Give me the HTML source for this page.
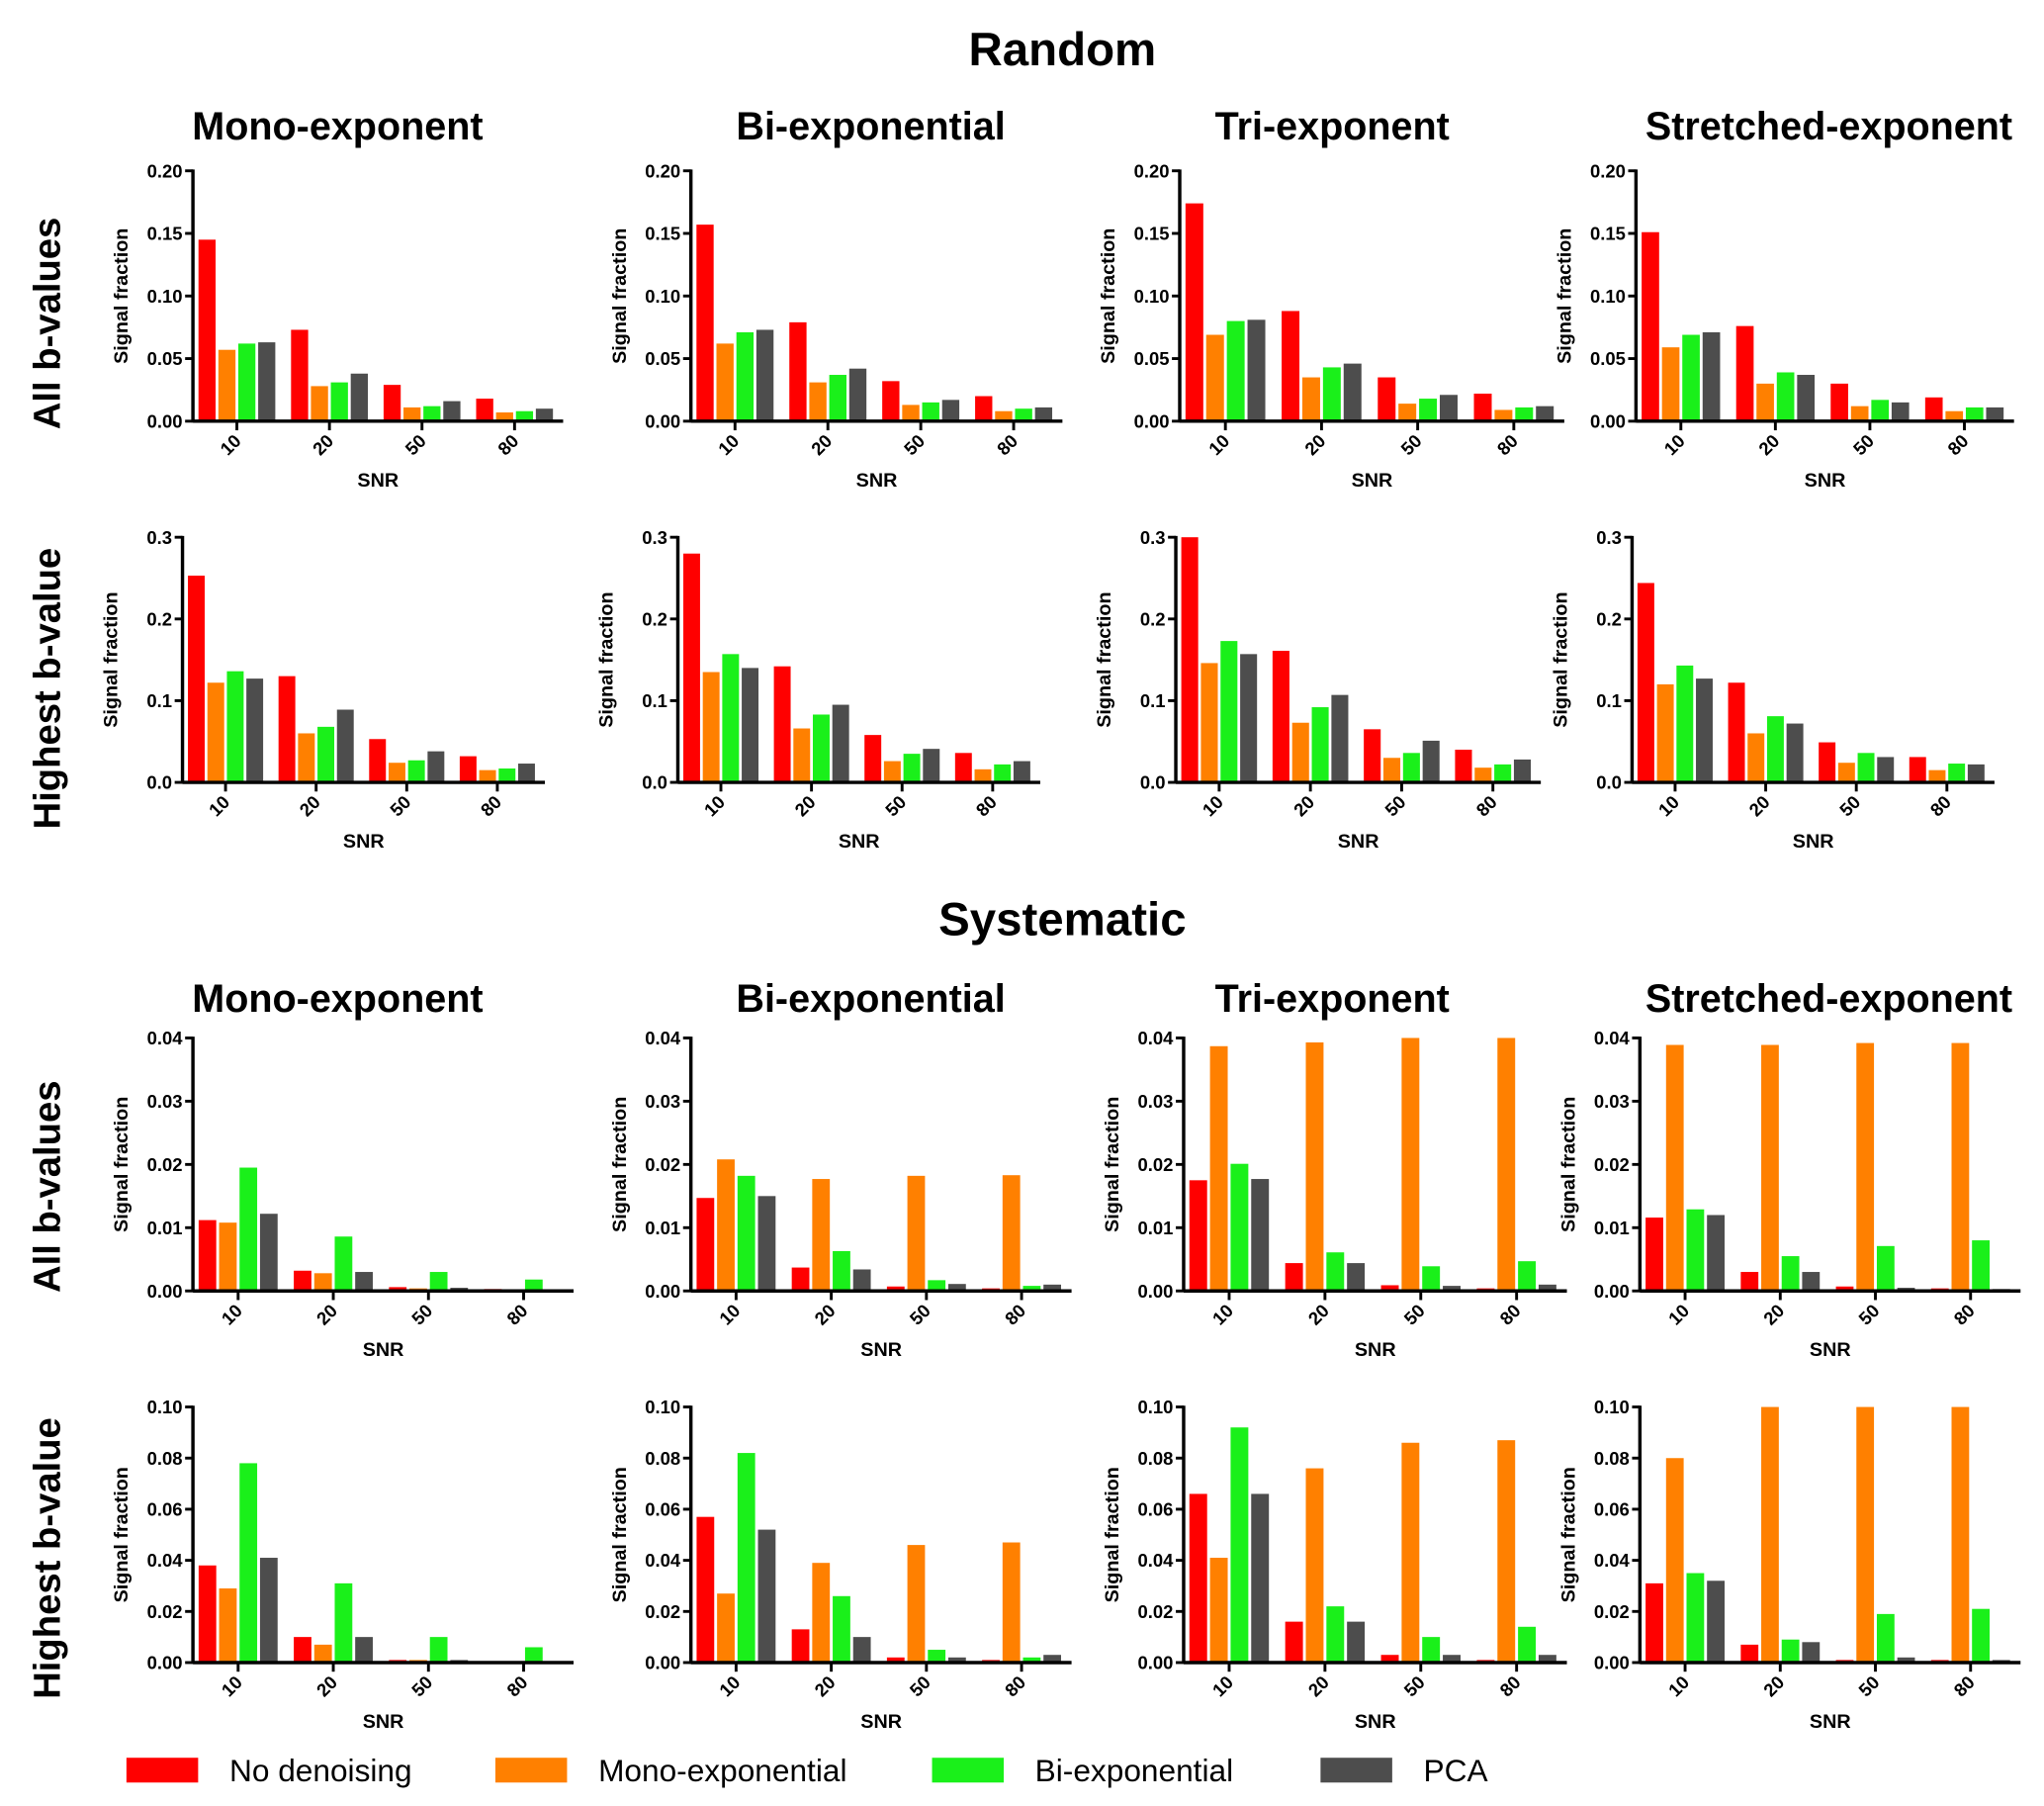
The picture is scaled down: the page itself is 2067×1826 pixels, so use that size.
<!DOCTYPE html>
<html><head><meta charset="utf-8"><style>
html,body{margin:0;padding:0;background:#fff;}
svg{display:block;font-family:"Liberation Sans",Arial,sans-serif;}
</style></head><body>
<svg id="fig" width="2067" height="1826" viewBox="0 0 1568 1385" preserveAspectRatio="none" xmlns="http://www.w3.org/2000/svg">
<text x="815" y="50" text-anchor="middle" font-size="36" font-weight="bold">Random</text>
<text x="815" y="717" text-anchor="middle" font-size="36" font-weight="bold">Systematic</text>
</svg>
<script>
const categories = ["10","20","50","80"];
const seriesNames = ["No denoising","Mono-exponential","Bi-exponential","PCA"];
const colTitles = ["Mono-exponent","Bi-exponential","Tri-exponent","Stretched-exponent"];
const rowLabels = ["All b-values","Highest b-value","All b-values","Highest b-value"];
const yMaxes = [0.20, 0.3, 0.04, 0.10];
const yTicksRow1 = [0,0.05,0.10,0.15,0.20];
const yTicksRow2 = [0,0.1,0.2,0.3];
const yTicksRow3 = [0,0.01,0.02,0.03,0.04];
const yTicksRow4 = [0,0.02,0.04,0.06,0.08,0.10];
const tickDecimals = [2,1,2,2];
// values[panel][category][series]
const row1Values = [
 [[.145,.057,.062,.063],[.073,.028,.031,.038],[.029,.011,.012,.016],[.018,.007,.008,.010]],
 [[.157,.062,.071,.073],[.079,.031,.037,.042],[.032,.013,.015,.017],[.020,.008,.010,.011]],
 [[.174,.069,.080,.081],[.088,.035,.043,.046],[.035,.014,.018,.021],[.022,.009,.011,.012]],
 [[.151,.059,.069,.071],[.076,.030,.039,.037],[.030,.012,.017,.015],[.019,.008,.011,.011]]];
const row2Values = [
 [[.253,.122,.136,.127],[.130,.060,.068,.089],[.053,.024,.027,.038],[.032,.015,.017,.023]],
 [[.280,.135,.157,.140],[.142,.066,.083,.095],[.058,.026,.035,.041],[.036,.016,.022,.026]],
 [[.300,.146,.173,.157],[.161,.073,.092,.107],[.065,.030,.036,.051],[.040,.018,.022,.028]],
 [[.244,.120,.143,.127],[.122,.060,.081,.072],[.049,.024,.036,.031],[.031,.015,.023,.022]]];
const row3Values = [
 [[.0112,.0108,.0195,.0122],[.0032,.0028,.0086,.0030],[.0006,.0004,.0030,.0005],[.0003,.0002,.0018,.0002]],
 [[.0147,.0208,.0182,.0150],[.0037,.0177,.0063,.0034],[.0007,.0182,.0017,.0011],[.0004,.0183,.0008,.0010]],
 [[.0175,.0387,.0201,.0177],[.0044,.0393,.0061,.0044],[.0009,.0400,.0039,.0008],[.0004,.0400,.0047,.0010]],
 [[.0116,.0389,.0129,.0120],[.0030,.0389,.0055,.0030],[.0007,.0392,.0071,.0005],[.0004,.0392,.0080,.0003]]];
const row4Values = [
 [[.038,.029,.078,.041],[.010,.007,.031,.010],[.001,.001,.010,.001],[.0005,.0003,.006,.0005]],
 [[.057,.027,.082,.052],[.013,.039,.026,.010],[.002,.046,.005,.002],[.001,.047,.002,.003]],
 [[.066,.041,.092,.066],[.016,.076,.022,.016],[.003,.086,.010,.003],[.001,.087,.014,.003]],
 [[.031,.080,.035,.032],[.007,.100,.009,.008],[.001,.100,.019,.002],[.001,.100,.021,.001]]];

const colors = ["#ff0000","#ff8000","#1af01a","#4d4d4d"];
const allValues = [row1Values,row2Values,row3Values,row4Values];
const allTicks = [yTicksRow1,yTicksRow2,yTicksRow3,yTicksRow4];
const rowTop = [131,412,796,1079];
const rowBot = [323,600,990,1275];
const colX = [[148,432],[530,815],[905,1200],[1255,1545]];
const colX2 = [[140,418],[520,798],[902,1182],[1252,1530]];
const colX34 = [[148,440],[530,822],[908,1202],[1258,1550]];
const titleY = [97,766];
const rowLabelY = [248,528,910,1195];

const svg = document.getElementById('fig');
const NS = "http://www.w3.org/2000/svg";
function mk(tag, attrs, parent){
  const e = document.createElementNS(NS, tag);
  for (const k in attrs) e.setAttribute(k, attrs[k]);
  (parent||svg).appendChild(e);
  return e;
}
const colCenters=[259,668,1022,1403];
for (let b=0;b<2;b++){
  for (let c=0;c<4;c++){
    const t = mk('text',{x:colCenters[c],y:titleY[b]+10,'text-anchor':'middle','font-size':30,'font-weight':'bold'});
    t.textContent = colTitles[c];
    
    
  }
}
for (let r=0;r<4;r++){
  const t = mk('text',{x:0,y:0,'text-anchor':'middle','font-size':29,'font-weight':'bold',transform:`translate(46,${rowLabelY[r]}) rotate(-90)`});
  t.textContent = rowLabels[r];
  
  
}

for (let r=0;r<4;r++){
  const xs = r===0?colX:(r===1?colX2:colX34);
  for (let p=0;p<4;p++){
    const g = mk('g',{});
    
    
    const x0=xs[p][0], x1=xs[p][1], top=rowTop[r], bot=rowBot[r];
    const ymax=yMaxes[r];
    const yScale = v => bot - (v/ymax)*(bot-top);
    const W=(x1-x0)/4;
    const xBand = i => x0 + i*W;
    const vals = allValues[r][p];
    for (let i=0;i<4;i++){
      for (let s=0;s<4;s++){
        const v=vals[i][s];
        const bx = xBand(i)+0.06*W + s*0.215*W;
        const by = yScale(v);
        const rect = mk('rect',{x:bx,y:by,width:0.185*W,height:Math.max(0,bot-by),fill:colors[s]},g);
        
        
      }
      const cx = xBand(i)+0.06*W+ (3*0.215*W+0.185*W)/2;
      mk('line',{x1:cx,x2:cx,y1:bot,y2:bot+7,stroke:'#000','stroke-width':2.2},g);
      const tl = mk('text',{x:0,y:0,'text-anchor':'end','font-size':14,'font-weight':'bold',transform:`translate(${cx+4},${bot+16}) rotate(-45)`},g);
      tl.textContent=categories[i];
      
      
    }
    for (const tv of allTicks[r]){
      const ty=yScale(tv);
      mk('line',{x1:x0-6,x2:x0,y1:ty,y2:ty,stroke:'#000','stroke-width':2.2},g);
      const tt = mk('text',{x:x0-8,y:ty+5,'text-anchor':'end','font-size':14,'font-weight':'bold'},g);
      tt.textContent = tv.toFixed(tickDecimals[r]);
      
      
    }
    mk('line',{x1:x0,x2:x0,y1:top-1,y2:bot+1,stroke:'#000','stroke-width':2.6},g);
    mk('line',{x1:x0,x2:x1,y1:bot,y2:bot,stroke:'#000','stroke-width':2.6},g);
    const xt = mk('text',{x:(x0+x1)/2,y:bot+50,'text-anchor':'middle','font-size':15,'font-weight':'bold'},g);
    xt.textContent='SNR';
    
    
    const yt = mk('text',{x:0,y:0,'text-anchor':'middle','font-size':15,'font-weight':'bold',transform:`translate(${x0-50},${(top+bot)/2}) rotate(-90)`},g);
    yt.textContent='Signal fraction';
    
    
  }
}
const legX=[97,380,715,1013];
for (let s=0;s<4;s++){
  const sw = mk('rect',{x:legX[s],y:1348,width:55,height:19,fill:colors[s]});
  
  
  const lt = mk('text',{x:legX[s]+79,y:1366,'font-size':24});
  lt.textContent=seriesNames[s];
  
  
}
</script>
</body></html>
